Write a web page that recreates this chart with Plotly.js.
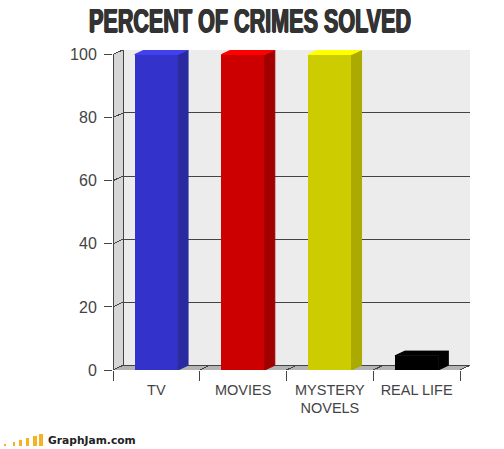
<!DOCTYPE html>
<html><head><meta charset="utf-8">
<script src="https://cdn.plot.ly/plotly-3.0.1.min.js"></script>
<style>html,body{margin:0;padding:0;background:#fff}
.shapelayer path{shape-rendering:crispEdges}</style></head>
<body><div id="chart" style="width:504px;height:449px"></div>
<script>
var categories=["TV","MOVIES","MYSTERY<br>NOVELS","REAL LIFE"];
var solved=[100,100,100,4.5];
var yTicks=[0,20,40,60,80,100];
var frontColors=["#3333cc","#cc0000","#cccc00","#000000"];
var sideColors=["#2a2aa0","#a00000","#aaaa00","#000000"];
var topColors=["#4040ee","#ff0000","#ffff00","#000000"];

var pxX=86.75, pxY=3.155;
var depthX=10/pxX, depthY=4.7/pxY, barW=0.5;
var xMax=357/pxX, yMax=320/pxY, nCat=categories.length;
var centers=categories.map(function(c,i){return i+0.5;});
var line="#444444";

var traces=[{type:"bar",x:centers,y:solved,width:barW,marker:{color:frontColors,line:{width:0}},hoverinfo:"skip",showlegend:false}];
solved.forEach(function(v,i){
  var l=centers[i]-barW/2,r=centers[i]+barW/2;
  traces.push({type:"scatter",mode:"lines",x:[r,r+depthX,r+depthX,r,r],y:[0,depthY,v+depthY,v,0],fill:"toself",fillcolor:sideColors[i],line:{width:1,color:sideColors[i]},hoverinfo:"skip",showlegend:false});
  traces.push({type:"scatter",mode:"lines",x:[l,r,r+depthX,l+depthX,l],y:[v,v,v+depthY,v+depthY,v],fill:"toself",fillcolor:topColors[i],line:{width:1,color:topColors[i]},hoverinfo:"skip",showlegend:false});
});

function poly(xs,ys,fill){
  var p=xs.map(function(x,i){return (i?"L":"M")+x+","+ys[i];}).join(" ")+" Z";
  return {type:"path",path:p,xref:"x",yref:"y",layer:"below",fillcolor:fill,line:{width:0}};
}
function seg(x0,y0,x1,y1,w,c){
  return {type:"line",x0:x0,y0:y0,x1:x1,y1:y1,xref:"x",yref:"y",layer:"below",line:{color:c||line,width:w||1}};
}
var shapes=[
  poly([depthX,xMax,xMax,depthX],[depthY,depthY,yMax,yMax],"#ececec"),
  poly([0,depthX,depthX,0],[0,depthY,yMax,100],"#d6d6d6"),
  poly([0,depthX,xMax,nCat],[0,depthY,depthY,0],"#b4b4b4")
];
yTicks.forEach(function(t){
  shapes.push(seg(0,t,depthX,t+depthY));
  shapes.push(seg(depthX,t+depthY,xMax,t+depthY));
});
shapes.push(seg(depthX,depthY,depthX,yMax));
shapes.push(seg(0,0,0,100));
shapes.push(seg(0,0,nCat,0));
shapes.push(seg(nCat,0,xMax,depthY));
for(var i=1;i<nCat;i++){shapes.push(seg(i,0,i+depthX,depthY));}

// GraphJam logo, paper coordinates
var logoX=[4,13,19,26,33,39], logoW=[2,2,3,3,4,4], logoH=[2,4,6,8,10,12];
logoX.forEach(function(x,i){
  shapes.push({type:"rect",xref:"paper",yref:"paper",
    x0:(x-113)/357,x1:(x+logoW[i]-113)/357,
    y0:(370-446)/320,y1:(370-446+logoH[i])/320,
    fillcolor:"#f5b324",line:{width:0}});
});

var layout={
  width:504,height:449,paper_bgcolor:"#fff",plot_bgcolor:"rgba(0,0,0,0)",
  margin:{l:113,r:34,t:50,b:79,pad:0},showlegend:false,bargap:0,shapes:shapes,
  title:{text:"PERCENT OF CRIMES SOLVED",x:250/504,xanchor:"center",y:1-20/449,yanchor:"middle",
    font:{family:"Liberation Sans",size:34,weight:700,color:"#333333",shadow:"1px 0 0 #333, -1px 0 0 #333, 0 1px 0 #333"}},
  xaxis:{range:[0,xMax],tickmode:"array",tickvals:centers,ticktext:categories,ticks:"",showgrid:false,zeroline:false,showline:false,
    tickfont:{family:"Liberation Sans",size:14.5,color:"#444444"},ticklabelstandoff:9,fixedrange:true,
    minor:{tickmode:"array",tickvals:[0,1,2,3,4],ticks:"outside",ticklen:10,tickwidth:1,tickcolor:line,showgrid:false}},
  yaxis:{range:[0,yMax],tickmode:"array",tickvals:yTicks,ticks:"outside",ticklen:8,tickwidth:1,tickcolor:line,showgrid:false,zeroline:false,showline:false,
    tickfont:{family:"Liberation Sans",size:16,color:"#444444"},ticklabelstandoff:4,fixedrange:true},
  annotations:[{text:"<b>GraphJam.com</b>",xref:"paper",yref:"paper",x:(46-113)/357,y:(370-440)/320,xanchor:"left",yanchor:"middle",showarrow:false,
    font:{family:"DejaVu Sans",size:10.7,color:"#222222"}}]
};
Plotly.newPlot("chart",traces,layout,{displayModeBar:false,staticPlot:true}).then(function(){
  var t=document.querySelector(".gtitle");
  if(t){t.setAttribute("textLength","322");t.setAttribute("lengthAdjust","spacingAndGlyphs");}
});
</script></body></html>
